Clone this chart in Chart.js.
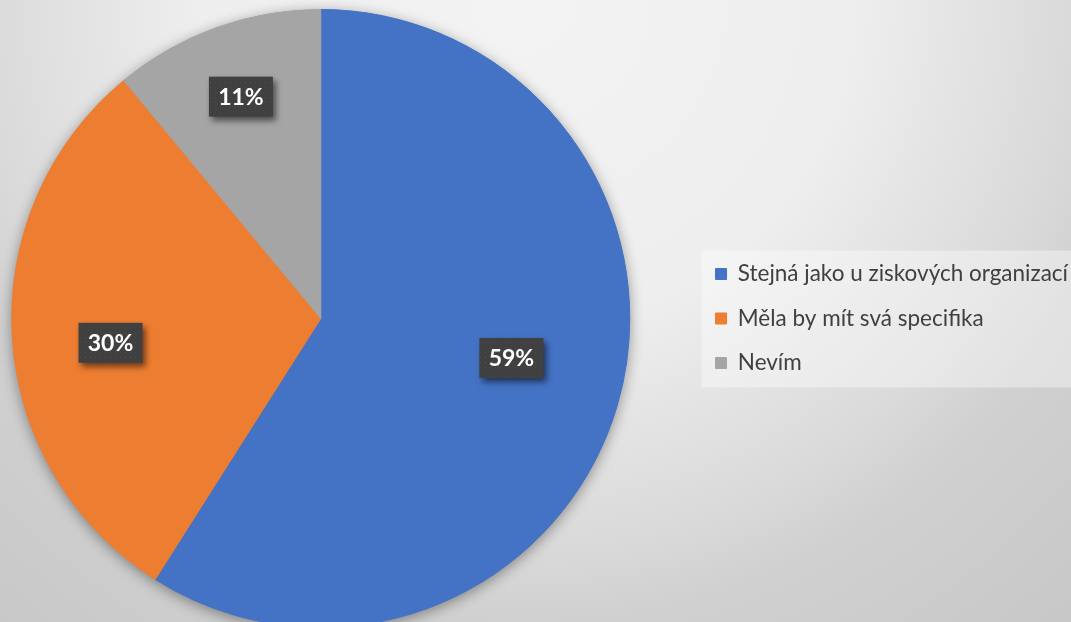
<!DOCTYPE html>
<html lang="cs">
<head>
<meta charset="utf-8">
<title>Odpovědi</title>
<script src="https://cdn.jsdelivr.net/npm/chart.js@4.4.1/dist/chart.umd.min.js"></script>
<style>
  html, body { margin: 0; padding: 0; width: 1071px; height: 622px; overflow: hidden; }
  body {
    position: relative;
    background: radial-gradient(circle 822px at 525px 0px,
      #f3f3f3 0%, #eeeeee 40%, #dadada 66%, #d0d0d0 76%, #c8c8c8 100%);
  }
  /* canvas runs a little past the page on the left, right and bottom */
  #wrap { position: absolute; left: -52px; top: 0; width: 1130px; height: 628px; }
</style>
</head>
<body>
<div id="wrap"><canvas id="pie"></canvas></div>
<script>
const categories = ['Stejná jako u ziskových organizací', 'Měla by mít svá specifika', 'Nevím'];
const shares = [59, 30, 11];
const sliceColors = ['#4472C4', '#ED7D31', '#A5A5A5'];

// pale panel behind the legend
const legendPanel = {
  id: 'legendPanel',
  beforeDraw(chart) {
    const { ctx, width } = chart;
    const lg = chart.legend;
    const mid = (lg.top + lg.bottom) / 2;
    ctx.save();
    ctx.fillStyle = 'rgba(255,255,255,0.38)';
    ctx.fillRect(lg.left + lg.options.labels.padding - 14, mid - 68, width, 137);
    ctx.restore();
  }
};

// soft drop shadow under the whole pie
const pieShadow = {
  id: 'pieShadow',
  beforeDatasetsDraw(chart) {
    const arc = chart.getDatasetMeta(0).data[0];
    if (!arc) return;
    const { ctx } = chart;
    ctx.save();
    ctx.shadowColor = 'rgba(0,0,0,0.4)';
    ctx.shadowBlur = 14;
    ctx.shadowOffsetY = 3;
    ctx.fillStyle = '#9a9a9a';
    ctx.beginPath();
    ctx.arc(arc.x, arc.y, arc.outerRadius, 0, Math.PI * 2);
    ctx.fill();
    ctx.restore();
  }
};

// dark dotted tile for the percentage tags
const dotTile = (() => {
  const c = document.createElement('canvas');
  c.width = c.height = 5;
  const t = c.getContext('2d');
  t.fillStyle = '#404040';
  t.fillRect(0, 0, 5, 5);
  t.fillStyle = '#4b4b4b';
  t.fillRect(2, 2, 1, 1);
  return c;
})();

const valueTags = {
  id: 'valueTags',
  afterDatasetsDraw(chart, args, opts) {
    const { ctx } = chart;
    const meta = chart.getDatasetMeta(0);
    const data = chart.data.datasets[0].data;
    const total = data.reduce((a, b) => a + b, 0);
    ctx.save();
    ctx.font = 'bold 23px Lato';
    ctx.textAlign = 'center';
    ctx.textBaseline = 'middle';
    const fill = ctx.createPattern(dotTile, 'repeat');
    meta.data.forEach((arc, i) => {
      const p = opts.place[i];
      const a = (arc.startAngle + arc.endAngle) / 2 + p.turn * Math.PI / 180;
      const r = arc.outerRadius * p.r;
      const x = arc.x + Math.cos(a) * r;
      const y = arc.y + Math.sin(a) * r;
      const w = 64, h = 40;
      ctx.shadowColor = 'rgba(0,0,0,0.55)';
      ctx.shadowBlur = 6;
      ctx.shadowOffsetX = 3;
      ctx.shadowOffsetY = 4;
      ctx.fillStyle = fill;
      ctx.fillRect(x - w / 2, y - h / 2, w, h);
      ctx.shadowColor = 'transparent';
      ctx.fillStyle = '#ffffff';
      ctx.fillText(Math.round(data[i] / total * 100) + '%', x, y + 1);
    });
    ctx.restore();
  }
};

function draw() {
  new Chart(document.getElementById('pie'), {
    type: 'pie',
    data: {
      labels: categories,
      datasets: [{
        data: shares,
        backgroundColor: sliceColors,
        borderColor: sliceColors,
        borderWidth: 1
      }]
    },
    options: {
      responsive: true,
      maintainAspectRatio: false,
      animation: false,
      events: [],
      layout: { padding: { top: 9, bottom: 0, left: 0, right: 0 } },
      plugins: {
        legend: {
          position: 'right',
          labels: {
            boxWidth: 11,
            boxHeight: 11,
            padding: 22,
            color: '#404040',
            font: { family: 'Lato', size: 22.5 }
          }
        },
        tooltip: { enabled: false },
        valueTags: {
          place: [{ r: 0.63, turn: -4.5 }, { r: 0.685, turn: -3 }, { r: 0.763, turn: 0 }]
        }
      }
    },
    plugins: [legendPanel, pieShadow, valueTags]
  });
}

Promise.all([
  document.fonts.load('22.5px Lato'),
  document.fonts.load('bold 23px Lato')
]).then(draw, draw);
</script>
</body>
</html>
